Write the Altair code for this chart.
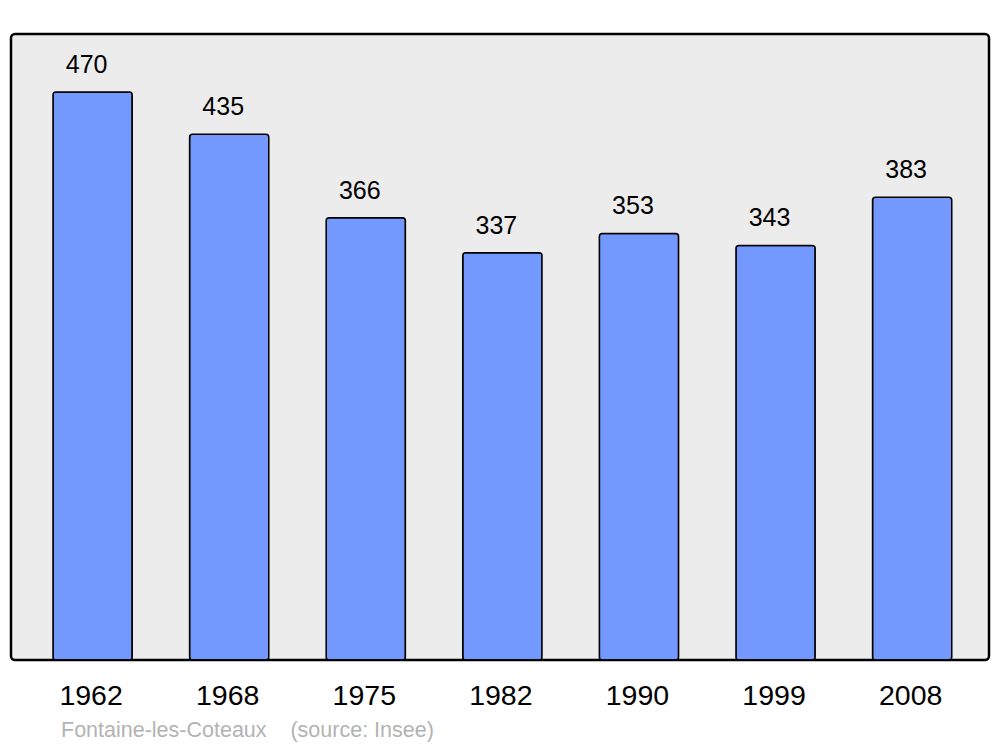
import altair as alt
import pandas as pd

years = ["1962", "1968", "1975", "1982", "1990", "1999", "2008"]
population = [470, 435, 366, 337, 353, 343, 383]
caption = "Fontaine-les-Coteaux\u00a0\u00a0\u00a0\u00a0(source: Insee)"

df = pd.DataFrame({"year": years, "pop": population})

FONT = "Liberation Sans"

x = alt.X("year:N", sort=years,
          scale=alt.Scale(paddingInner=0.42, paddingOuter=0.29, align=0.53),
          axis=alt.Axis(title=None, labelAngle=0, domain=False, ticks=False,
                        labelFontSize=28.5, labelColor="black", labelFont=FONT,
                        labelPadding=21, labelOffset=-1.5))
y = alt.Y("pop:Q", scale=alt.Scale(domain=[0, 518], nice=False), axis=None)

base = alt.Chart(df)
bars = base.mark_bar(color="#7399ff", stroke="black", strokeWidth=1.5,
                     cornerRadius=3).encode(x=x, y=y)
labels = base.mark_text(fontSize=25, font=FONT, color="black", dy=-19, dx=-6,
                        baseline="alphabetic").encode(x=x, y=y, text="pop:Q")
cap = alt.Chart(pd.DataFrame({"t": [caption]})).mark_text(
    fontSize=21.5, font=FONT, color="#b3b3b3", align="left", baseline="alphabetic"
).encode(x=alt.value(50), y=alt.value(703), text="t:N")

chart = alt.layer(bars, labels, cap).properties(
    width=978, height=626,
    autosize=alt.AutoSizeParams(type="none"),
    padding={"left": 3, "top": 26, "right": 3, "bottom": 86},
).configure_view(
    fill="#ececec", stroke="black", strokeWidth=2.5, cornerRadius=4
)

chart.save("out.html", embed_options={"renderer": "svg", "actions": False})
